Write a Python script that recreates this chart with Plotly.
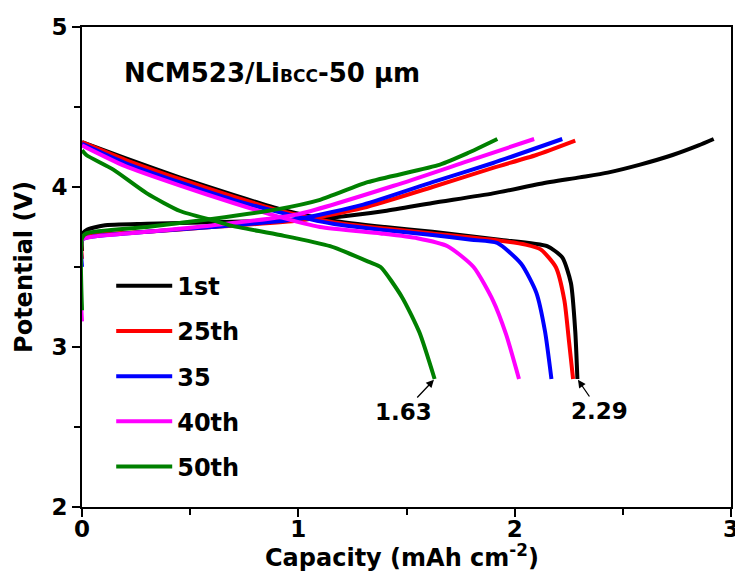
import plotly.graph_objects as go

# ---------------- data ----------------
names = ["1st", "25th", "35", "40th", "50th"]
colors = ["#000000", "#FF0000", "#0000FF", "#FF00FF", "#008000"]

# charge curves (capacity, potential)
ch_1_x = [0, 0, 0.02, 0.1, 0.3, 0.6, 0.9, 1.16, 1.4, 1.62, 1.9, 2.12, 2.3, 2.43, 2.58, 2.73, 2.85, 2.92]
ch_1_y = [3.60, 3.70, 3.73, 3.76, 3.77, 3.78, 3.79, 3.81, 3.85, 3.90, 3.96, 4.02, 4.06, 4.09, 4.14, 4.20, 4.26, 4.30]
ch_25_x = [0, 0, 0.05, 0.3, 0.6, 1.0, 1.3, 1.62, 1.9, 2.1, 2.28]
ch_25_y = [3.55, 3.68, 3.70, 3.72, 3.75, 3.79, 3.87, 4.00, 4.12, 4.20, 4.29]
ch_35_x = [0, 0, 0.05, 0.3, 0.6, 1.0, 1.3, 1.62, 1.9, 2.22]
ch_35_y = [3.50, 3.67, 3.69, 3.72, 3.75, 3.80, 3.89, 4.03, 4.15, 4.30]
ch_40_x = [0, 0, 0.05, 0.3, 0.6, 1.0, 1.47, 1.78, 2.09]
ch_40_y = [3.16, 3.67, 3.69, 3.72, 3.76, 3.83, 4.02, 4.16, 4.30]
ch_50_x = [0, 0, 0.02, 0.3, 0.6, 0.9, 1.1, 1.32, 1.655, 1.78, 1.92]
ch_50_y = [3.23, 3.68, 3.71, 3.75, 3.80, 3.86, 3.92, 4.03, 4.14, 4.21, 4.30]

# discharge curves
dc_1_x = [0, 0.2, 0.45, 0.7, 0.92, 1.16, 1.4, 1.62, 1.93, 2.15, 2.22, 2.26, 2.28, 2.29]
dc_1_y = [4.28, 4.18, 4.06, 3.95, 3.86, 3.79, 3.75, 3.72, 3.67, 3.63, 3.56, 3.40, 3.10, 2.80]
dc_25_x = [0, 0.2, 0.45, 0.7, 0.92, 1.16, 1.4, 1.62, 1.9, 2.05, 2.12, 2.19, 2.23, 2.25, 2.27]
dc_25_y = [4.28, 4.17, 4.05, 3.94, 3.85, 3.78, 3.74, 3.71, 3.67, 3.64, 3.61, 3.50, 3.29, 3.05, 2.80]
dc_35_x = [0, 0.2, 0.45, 0.7, 0.92, 1.16, 1.4, 1.62, 1.8, 1.92, 2.03, 2.10, 2.14, 2.17]
dc_35_y = [4.27, 4.15, 4.03, 3.92, 3.84, 3.77, 3.73, 3.70, 3.67, 3.65, 3.52, 3.34, 3.10, 2.80]
dc_40_x = [0, 0.2, 0.45, 0.7, 0.92, 1.1, 1.38, 1.55, 1.69, 1.81, 1.90, 1.96, 2.02]
dc_40_y = [4.26, 4.13, 4.01, 3.90, 3.81, 3.75, 3.71, 3.68, 3.63, 3.50, 3.29, 3.08, 2.80]
dc_50_x = [0, 0.02, 0.143, 0.3, 0.453, 0.61, 0.684, 0.915, 1.147, 1.33, 1.38, 1.48, 1.56, 1.63]
dc_50_y = [4.23, 4.20, 4.11, 3.96, 3.85, 3.79, 3.76, 3.70, 3.63, 3.53, 3.50, 3.31, 3.09, 2.80]

charge = [(ch_1_x, ch_1_y), (ch_25_x, ch_25_y), (ch_35_x, ch_35_y), (ch_40_x, ch_40_y), (ch_50_x, ch_50_y)]
discharge = [(dc_1_x, dc_1_y), (dc_25_x, dc_25_y), (dc_35_x, dc_35_y), (dc_40_x, dc_40_y), (dc_50_x, dc_50_y)]

x_ticks = [0, 1, 2, 3]
y_ticks = [2, 3, 4, 5]
title_text = "NCM523/Li<span style='font-size:17px'>BCC</span>-50 μm"
x_title = "Capacity (mAh cm<sup>-2</sup>)"
y_title = "Potential (V)"
labels = [("1.63", 1.63, 2.80), ("2.29", 2.29, 2.80)]

FONT = "DejaVu Sans, Arial, sans-serif"

fig = go.Figure()
for i, name in enumerate(names):
    cx, cy = charge[i]
    dx, dy = discharge[i]
    fig.add_trace(go.Scatter(x=cx, y=cy, mode="lines", name=name, legendgroup=name,
                             line=dict(color=colors[i], width=4, shape="spline", smoothing=0.6),
                             showlegend=True))
    fig.add_trace(go.Scatter(x=dx, y=dy, mode="lines", name=name, legendgroup=name,
                             line=dict(color=colors[i], width=4, shape="spline", smoothing=0.6),
                             showlegend=False))

fig.add_annotation(x=0.062, y=0.904, xref="paper", yref="paper", text=title_text,
                   showarrow=False, xanchor="left", yanchor="middle",
                   font=dict(family=FONT, size=26, color="black", weight="bold"))
# x-axis title placed as annotation for exact position
fig.add_annotation(x=0.493, y=-0.103, xref="paper", yref="paper", text=x_title,
                   showarrow=False, xanchor="center", yanchor="middle",
                   font=dict(family=FONT, size=24, color="black", weight="bold"))
offs = {"1.63": (-31, 33), "2.29": (22, 32)}
for t, xv, yv in labels:
    ax, ay = offs[t]
    fig.add_annotation(x=xv, y=yv, text=t, showarrow=True, ax=ax, ay=ay,
                       arrowhead=2, arrowsize=1.2, arrowwidth=1.3, arrowcolor="black",
                       standoff=1, font=dict(family=FONT, size=23, color="black", weight="bold"))

axis_common = dict(showline=True, linecolor="black", linewidth=2, mirror=True,
                   ticks="outside", ticklen=8, tickwidth=1.5, tickcolor="black",
                   showgrid=False, zeroline=False, ticklabeloverflow="allow", automargin=False,
                   tickfont=dict(family=FONT, size=23, color="black", weight="bold"))
fig.update_xaxes(range=[0, 3], tickvals=x_ticks, ticklabelstandoff=-8,
                 minor=dict(ticks="outside", ticklen=6, tickwidth=1.5, tickcolor="black", dtick=0.5, tick0=0),
                 **axis_common)
fig.update_yaxes(range=[2, 5], tickvals=y_ticks,
                 minor=dict(ticks="outside", ticklen=6, tickwidth=1.5, tickcolor="black", dtick=0.5, tick0=0),
                 title=dict(text=y_title, standoff=12,
                            font=dict(family=FONT, size=24, color="black", weight="bold")),
                 **axis_common)

fig.update_layout(width=735, height=575, margin=dict(l=82, r=4, t=27, b=68),
                  plot_bgcolor="white", paper_bgcolor="white",
                  legend=dict(x=0.045, y=0.507, xanchor="left", yanchor="top",
                              bgcolor="rgba(0,0,0,0)", tracegroupgap=11, itemwidth=56,
                              font=dict(family=FONT, size=24, color="black", weight="bold")),
                  font=dict(family=FONT, color="black"))

fig.write_html("out.html")
